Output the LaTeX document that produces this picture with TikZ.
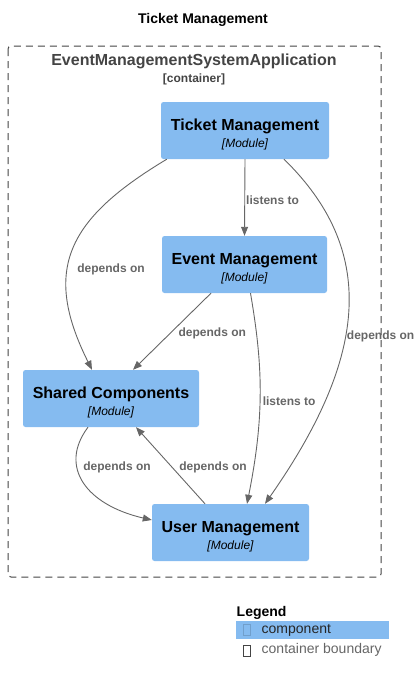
\documentclass[tikz,border=0pt]{standalone}
\usepackage{fontspec}
\setmainfont{Liberation Sans}
\usetikzlibrary{arrows.meta}
\definecolor{compblue}{HTML}{85BBF0}
\definecolor{edgegray}{HTML}{666666}
\definecolor{boundgray}{HTML}{444444}
\newcommand{\modlabel}[1]{\rule{0pt}{20pt}\textbf{#1}\\{\fontsize{12}{17}\selectfont\itshape [Module]}}

\begin{document}
\begin{tikzpicture}[x=1pt,y=-1pt,
  module/.style={fill=compblue, rounded corners=2.5pt, align=center, inner sep=0pt,
    minimum height=57pt, font=\fontsize{16}{17}\selectfont},
  dep/.style={draw=edgegray, line width=0.9pt, -{Triangle[length=9pt,width=7pt]}},
  lbl/.style={text=edgegray, font=\fontsize{12}{14}\selectfont\bfseries, inner sep=0pt, anchor=west}]
  \useasboundingbox (0,0) rectangle (419,683);

  % Title and boundary
  \node[font=\fontsize{14}{16}\selectfont\bfseries] (title) at (203,20) {Ticket Management};
  \draw[boundgray, line width=1pt, dash pattern=on 7pt off 5pt, rounded corners=3pt]
    (8,46) rectangle (381,577);
  \node[text=boundgray, font=\fontsize{16}{18}\selectfont\bfseries] (app) at (194,61) {EventManagementSystemApplication};
  \node[text=boundgray, font=\fontsize{12}{14}\selectfont\bfseries] (app_type) at (194,79) {[container]};

  % Define modules
  \node[module, minimum width=168pt] (tm) at (245,130.5) {\modlabel{Ticket Management}};
  \node[module, minimum width=165pt] (em) at (244.5,264.5) {\modlabel{Event Management}};
  \node[module, minimum width=176pt] (sc) at (111,398.5) {\modlabel{Shared Components}};
  \node[module, minimum width=157pt] (um) at (230.5,532.5) {\modlabel{User Management}};

  % Define relations
  \path
    (tm.south) edge[dep] node[lbl, pos=0.53, xshift=1pt] {listens to} (em.north)
    ([xshift=-33.5pt]em.south) edge[dep] node[lbl, pos=0.53, xshift=8.5pt] {depends on} ([xshift=22pt]sc.north)
    ([xshift=-25.5pt]um.north) edge[dep] node[lbl, pos=0.48, xshift=7pt] {depends on} ([xshift=25pt]sc.south);
  \draw[dep] ([xshift=6pt]tm.south west) .. controls +(-100,60) and +(-50,-100) .. ([xshift=-19pt]sc.north)
    node[lbl, pos=0.6, xshift=9pt] {depends on};
  \draw[dep] ([xshift=39pt]tm.south) .. controls +(92,90) and +(105,-150) .. ([xshift=34.5pt]um.north)
    node[lbl, pos=0.58, xshift=1.5pt] {depends on};
  \draw[dep] ([xshift=6pt]em.south) .. controls +(12,70) and +(18,-90) .. ([xshift=16.5pt]um.north)
    node[lbl, pos=0.55, xshift=2.5pt] {listens to};
  \draw[dep] ([xshift=-23pt]sc.south) .. controls +(-30,40) and +(-65,-15) .. ([yshift=12.5pt]um.west)
    node[lbl, pos=0.35, xshift=5.8pt] {depends on};

  % Legend
  \node[anchor=west, inner sep=0pt, font=\fontsize{14}{16}\selectfont\bfseries] (legend) at (236.5,612.5) {Legend};
  \fill[compblue] (236,620.5) rectangle (389,639);
  \draw[compblue!85!black, line width=0.5pt] (243.5,624.5) rectangle (250.5,635.5);
  \node[anchor=west, inner sep=0pt, text=black!85, font=\fontsize{14}{16}\selectfont] (leg_comp) at (261.5,630) {component};
  \draw[boundgray, line width=0.7pt] (243.5,645) rectangle (250.5,656);
  \node[anchor=west, inner sep=0pt, text=edgegray, font=\fontsize{14}{16}\selectfont] (leg_bound) at (261.5,650) {container boundary};
\end{tikzpicture}
\end{document}
